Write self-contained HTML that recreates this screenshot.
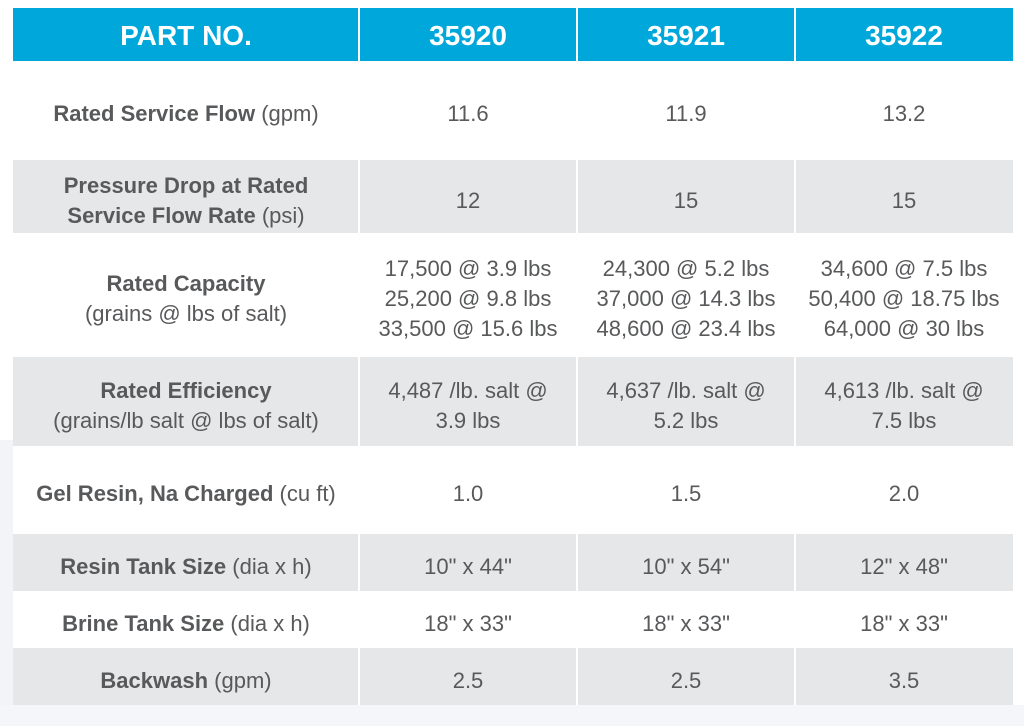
<!DOCTYPE html>
<html><head><style>
body{margin:0;width:1024px;height:726px;background:#fff;position:relative;overflow:hidden;font-family:"Liberation Sans",sans-serif;color:#58595b}
.bg1{position:absolute;left:0;top:440px;width:14px;height:286px;background:#f3f4f8}
.bg2{position:absolute;left:0;top:705px;width:1024px;height:21px;background:#f5f6f9}
.c{position:absolute;display:flex;align-items:center;justify-content:center;text-align:center;font-size:22px;line-height:30px;box-sizing:border-box;padding-top:8px}
.c>div{width:100%}
.h{background:#00a7db;color:#fff;font-weight:bold;font-size:28px;padding-top:2px}
.g{background:#e6e7e8}
.w{background:#fff}
b{font-weight:bold}
.sep{position:absolute;width:1.5px;background:#fff}
</style></head><body>
<div class="bg1"></div><div class="bg2"></div>
<div id="t"></div>
<script>
const cols=[13,359,577,795,1013];
const rows=[[8,61,'h'],[61,159,'w'],[160,233,'g'],[233,357,'w'],[357,446,'g'],[446,534,'w'],[534,591,'g'],[591,648,'w'],[648,705,'g']];
const data=[
['PART NO.','35920','35921','35922'],
['<b>Rated Service Flow</b> (gpm)','11.6','11.9','13.2'],
['<b>Pressure Drop at Rated<br>Service Flow Rate</b> (psi)','12','15','15'],
['<b>Rated Capacity</b><br>(grains @ lbs of salt)','17,500 @ 3.9 lbs<br>25,200 @ 9.8 lbs<br>33,500 @ 15.6 lbs','24,300 @ 5.2 lbs<br>37,000 @ 14.3 lbs<br>48,600 @ 23.4 lbs','34,600 @ 7.5 lbs<br>50,400 @ 18.75 lbs<br>64,000 @ 30 lbs'],
['<b>Rated Efficiency</b><br>(grains/lb salt @ lbs of salt)','4,487 /lb. salt @<br>3.9 lbs','4,637 /lb. salt @<br>5.2 lbs','4,613 /lb. salt @<br>7.5 lbs'],
['<b>Gel Resin, Na Charged</b> (cu ft)','1.0','1.5','2.0'],
['<b>Resin Tank Size</b> (dia x h)','10" x 44"','10" x 54"','12" x 48"'],
['<b>Brine Tank Size</b> (dia x h)','18" x 33"','18" x 33"','18" x 33"'],
['<b>Backwash</b> (gpm)','2.5','2.5','3.5']];
let h='';
rows.forEach((r,i)=>{for(let j=0;j<4;j++){h+=`<div class="c ${r[2]}" style="left:${cols[j]}px;top:${r[0]}px;width:${cols[j+1]-cols[j]}px;height:${r[1]-r[0]}px"><div>${data[i][j]}</div></div>`;}});
for(let j=1;j<4;j++)h+=`<div class="sep" style="left:${cols[j]-1}px;top:8px;height:697px"></div>`;
document.getElementById('t').innerHTML=h;
</script>
</body></html>
